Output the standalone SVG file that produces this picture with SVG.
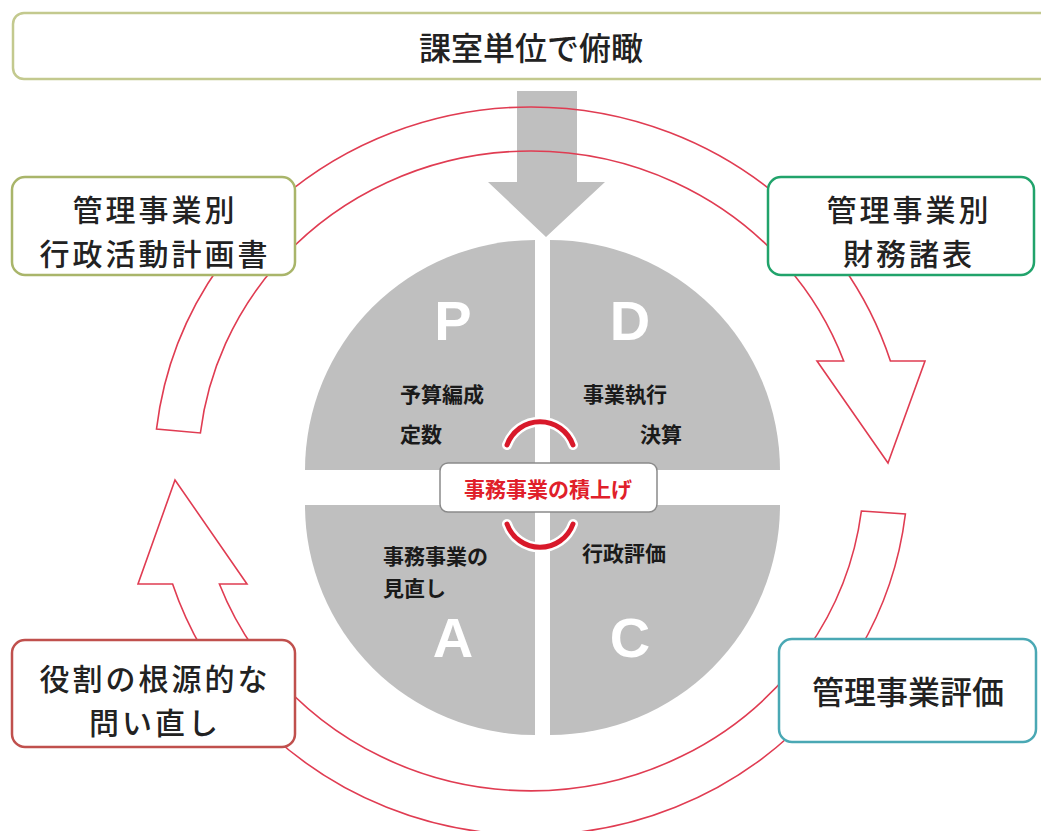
<svg xmlns="http://www.w3.org/2000/svg" width="1041" height="831" viewBox="0 0 1041 831">
<defs>
<style>
.jp{font-family:"Noto Sans CJK JP","Noto Sans CJK SC",sans-serif;fill:#222}
.box{fill:#fff;stroke-width:2.5}
.big{font-size:32px;font-weight:500}
.two{font-size:30px;font-weight:500;letter-spacing:3px}
.pt{font-size:21px;font-weight:700;fill:#1a1a1a}
.ring{fill:none;stroke:#e03c52;stroke-width:1.6;stroke-linejoin:miter}
.q{fill:#bfbfbf}
.let{font-family:"Liberation Sans",Arial,sans-serif;font-weight:700;font-size:56px;fill:#fff}
.halo{fill:none;stroke:#fff;stroke-width:10;stroke-linecap:round}
.arc{fill:none;stroke:#d8192a;stroke-width:5;stroke-linecap:round}
</style>
</defs>
<rect width="1041" height="831" fill="#fff"/>

<g id="top-arrow">
<polygon points="517,91 577,91 577,182 605,182 546,237 488,182 517,182" fill="#bfbfbf"/>
</g>

<g id="connectors">
<path class="ring" d="M 280 199.4 A 377 364 0 0 1 782 199.4 L 782 260.7 A 333 320 0 0 0 280 260.7 Z"/>
<path class="ring" d="M 785.8 265 A 333 320 0 0 1 843.7 361 L 817 361 L 888 463 L 925 361 L 890.4 361 A 377 364 0 0 0 841.8 265 Z"/>
<path class="ring" d="M 861.4 511 L 905.4 514 A 377 364 0 0 1 859.3 650 L 807 650 A 333 320 0 0 0 861.4 511 Z"/>
<path class="ring" d="M 790 672 A 333 320 0 0 1 272 672 L 272 735.5 A 377 364 0 0 0 790 735.5 Z"/>
<path class="ring" d="M 202.7 650 A 377 364 0 0 1 172.6 584 L 138 584 L 175 480 L 247 584 L 219.4 584 A 333 320 0 0 0 255 650 Z"/>
<path class="ring" d="M 156.5 429 A 377 364 0 0 1 220.2 265 L 276.2 265 A 333 320 0 0 0 200.4 433 Z"/>
</g>

<g id="pdca">
<path class="q" d="M 535 470 L 305 470 A 230 230 0 0 1 535 240 Z"/>
<path class="q" d="M 550 470 L 550 240 A 230 230 0 0 1 780 470 Z"/>
<path class="q" d="M 535 505 L 535 735 A 230 230 0 0 1 305 505 Z"/>
<path class="q" d="M 550 505 L 780 505 A 230 230 0 0 1 550 735 Z"/>
<text class="let" x="453" y="320" text-anchor="middle" dominant-baseline="central">P</text>
<text class="let" x="630" y="320" text-anchor="middle" dominant-baseline="central">D</text>
<text class="let" x="453" y="637" text-anchor="middle" dominant-baseline="central">A</text>
<text class="let" x="630" y="637" text-anchor="middle" dominant-baseline="central">C</text>
<text class="jp pt" x="400" y="393" dominant-baseline="central">予算編成</text>
<text class="jp pt" x="400" y="433" dominant-baseline="central">定数</text>
<text class="jp pt" x="583" y="393" dominant-baseline="central">事業執行</text>
<text class="jp pt" x="682" y="433" text-anchor="end" dominant-baseline="central">決算</text>
<text class="jp pt" x="383" y="555" dominant-baseline="central">事務事業の</text>
<text class="jp pt" x="383" y="587" dominant-baseline="central">見直し</text>
<text class="jp pt" x="582" y="552" dominant-baseline="central">行政評価</text>
</g>

<g id="center-label">
<path class="halo" d="M 507 445 A 35 35 0 0 1 573 445"/>
<path class="arc" d="M 507 445 A 35 35 0 0 1 573 445"/>
<path class="halo" d="M 507 524 A 35 35 0 0 0 573 524"/>
<path class="arc" d="M 507 524 A 35 35 0 0 0 573 524"/>
<rect x="440" y="463" width="217" height="49" rx="8" fill="#fff" stroke="#8a8a8a" stroke-width="1.5"/>
<text class="jp" x="548" y="488" text-anchor="middle" dominant-baseline="central" font-size="21" font-weight="700" style="fill:#e0202a">事務事業の積上げ</text>
</g>

<g id="node-top">
<rect class="box" x="13" y="13" width="1040" height="66" rx="11" stroke="#c3c98e" stroke-width="3"/>
<text class="jp big" x="531" y="46" text-anchor="middle" dominant-baseline="central">課室単位で俯瞰</text>
</g>

<g id="node-plan">
<rect class="box" x="12" y="177" width="283" height="98" rx="13" stroke="#a9b56a"/>
<text class="jp two" x="155" y="208" text-anchor="middle" dominant-baseline="central">管理事業別</text>
<text class="jp two" x="155" y="252" text-anchor="middle" dominant-baseline="central">行政活動計画書</text>
</g>

<g id="node-finance">
<rect class="box" x="768" y="177" width="266" height="98" rx="13" stroke="#21a36b"/>
<text class="jp two" x="909" y="208" text-anchor="middle" dominant-baseline="central">管理事業別</text>
<text class="jp two" x="909" y="252" text-anchor="middle" dominant-baseline="central">財務諸表</text>
</g>

<g id="node-review">
<rect class="box" x="12" y="640" width="283" height="107" rx="13" stroke="#c0504d"/>
<text class="jp two" x="155" y="677" text-anchor="middle" dominant-baseline="central">役割の根源的な</text>
<text class="jp two" x="155" y="721" text-anchor="middle" dominant-baseline="central">問い直し</text>
</g>

<g id="node-eval">
<rect class="box" x="779" y="639" width="257" height="103" rx="13" stroke="#4aa8b4"/>
<text class="jp big" x="908" y="690" text-anchor="middle" dominant-baseline="central">管理事業評価</text>
</g>
</svg>
